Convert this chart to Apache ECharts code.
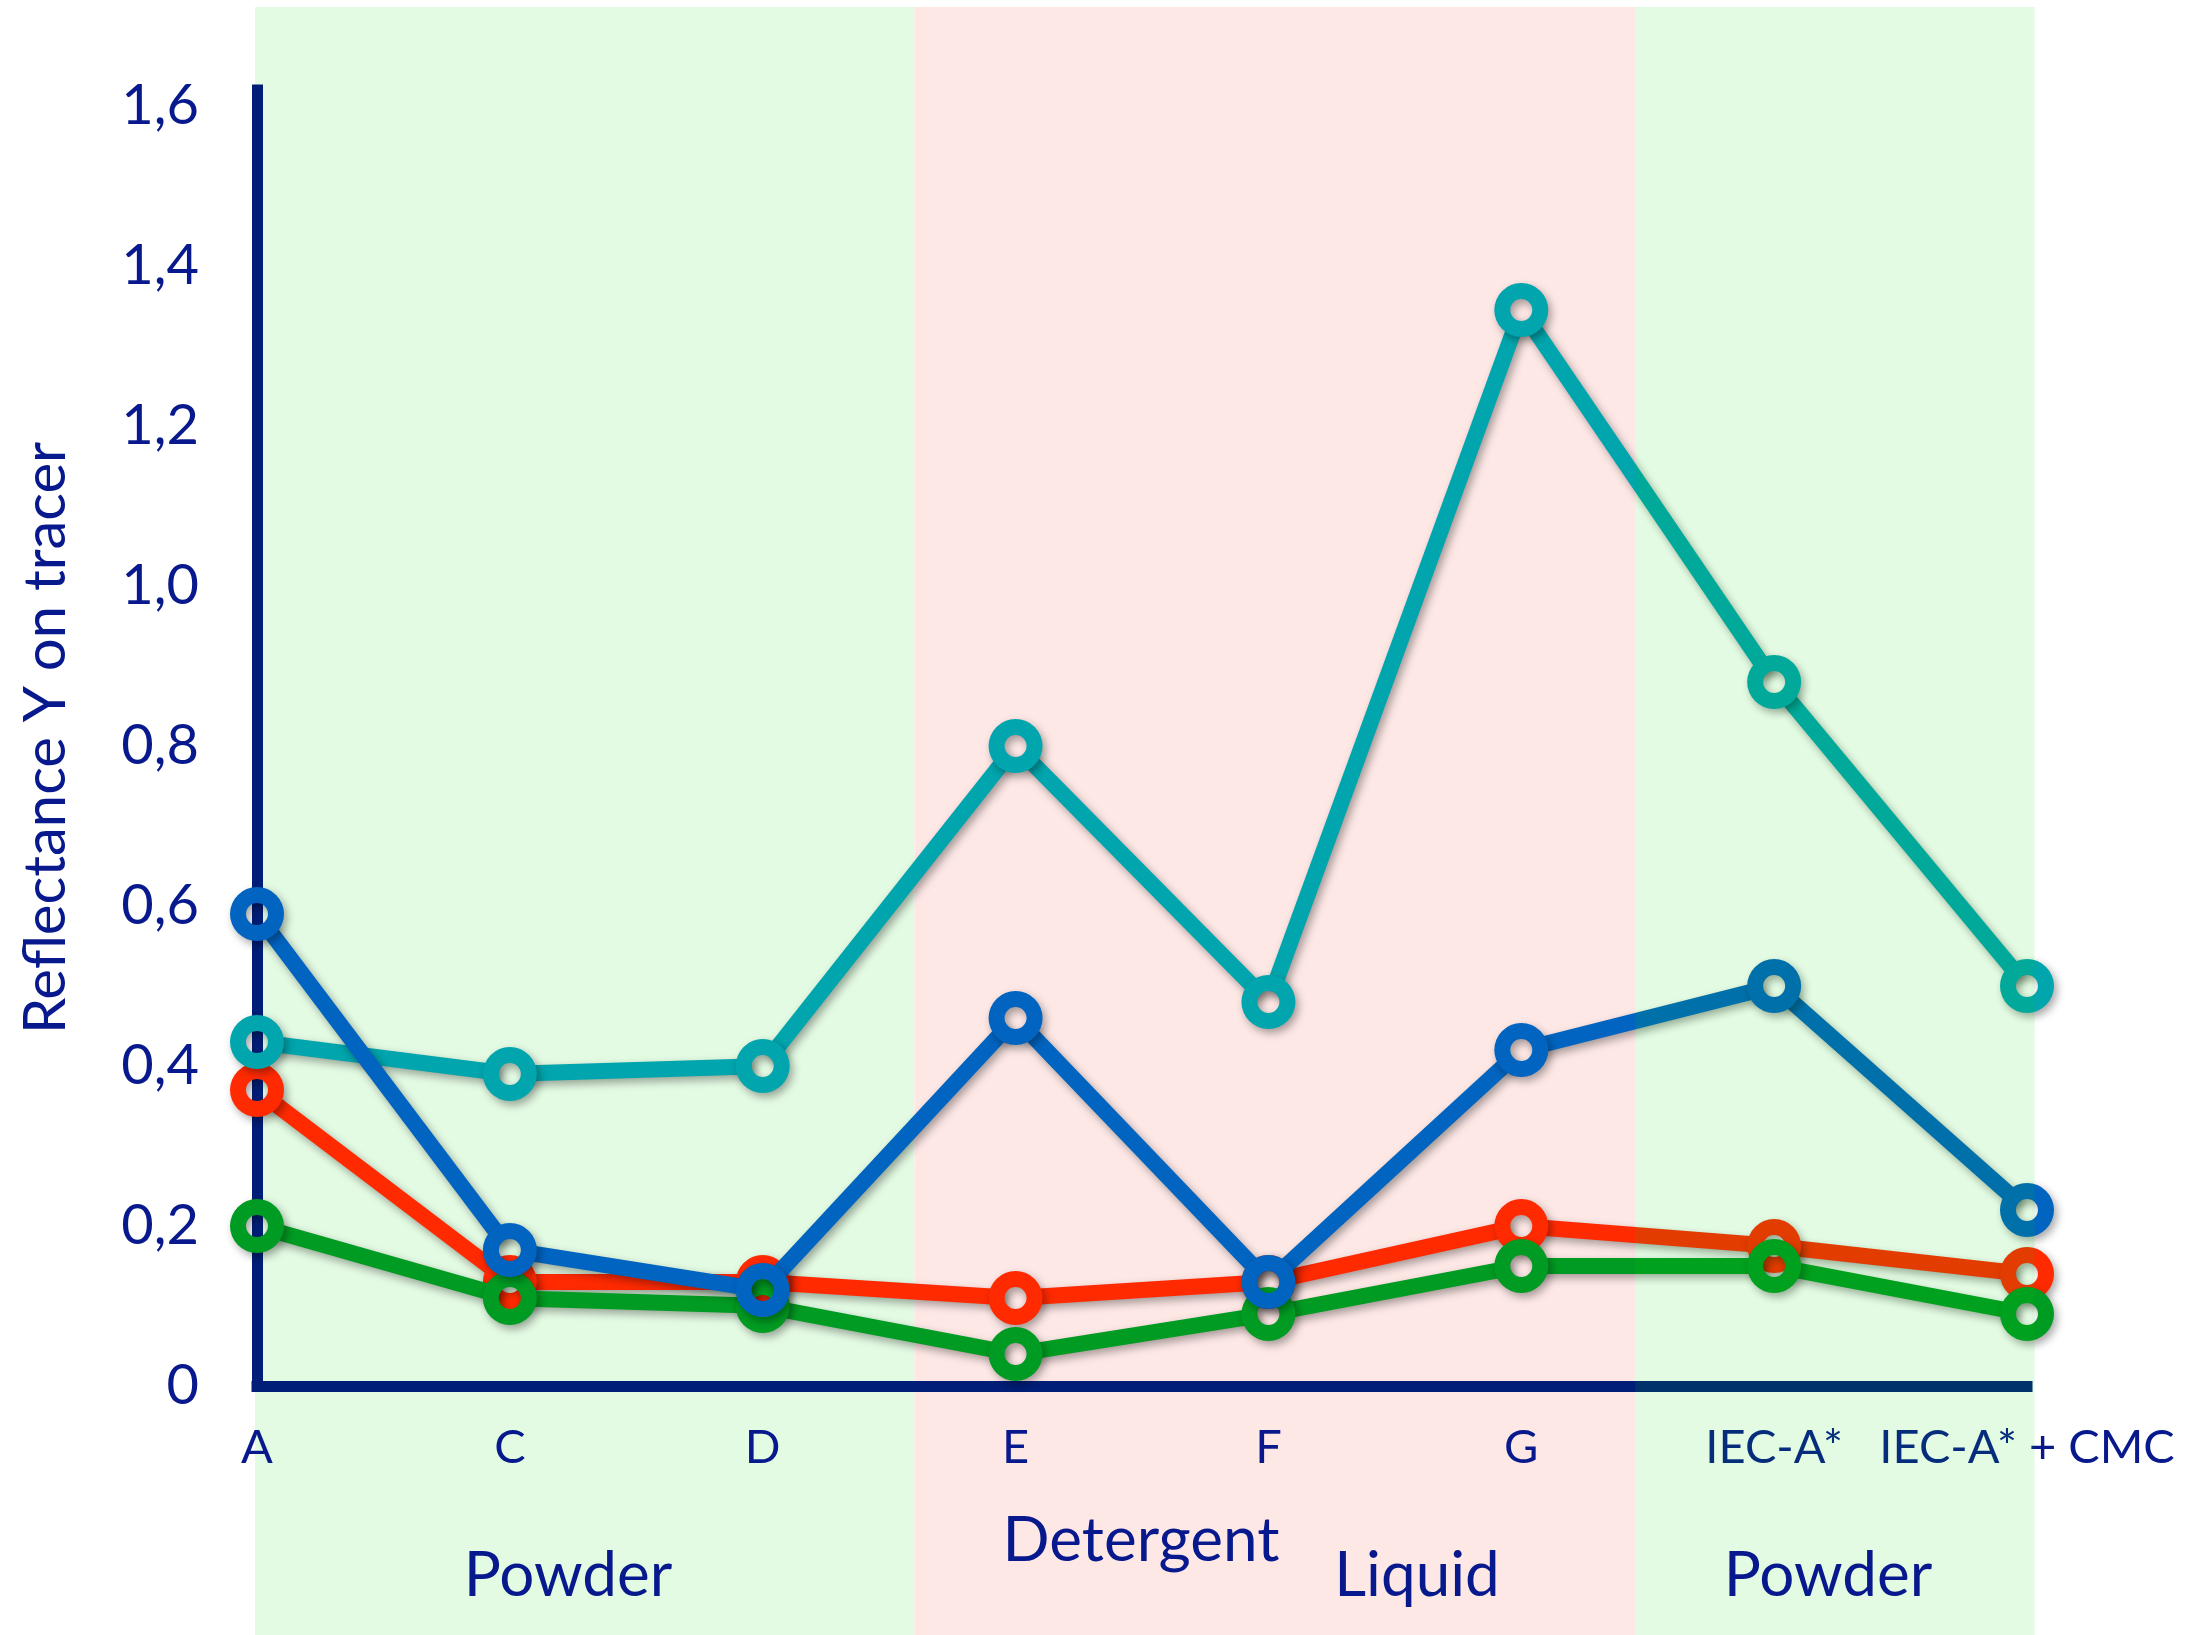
<!DOCTYPE html>
<html><head><meta charset="utf-8">
<script src="https://cdn.jsdelivr.net/npm/echarts@6/dist/echarts.min.js"></script>
<style>html,body{margin:0;padding:0;background:#fff}#c{width:2196px;height:1635px}</style>
</head><body><div id="c"></div>
<script>
const categories = ['A','C','D','E','F','G','IEC-A*','IEC-A* + CMC'];
const tealValues  = [0.43, 0.39, 0.40, 0.80, 0.48, 1.345, 0.88, 0.50];
const blueValues  = [0.59, 0.17, 0.12, 0.46, 0.13, 0.42, 0.50, 0.22];
const redValues   = [0.37, 0.13, 0.13, 0.11, 0.13, 0.20, 0.175, 0.14];
const greenValues = [0.20, 0.11, 0.10, 0.04, 0.09, 0.15, 0.15, 0.09];
const yTickLabels = ['0','0,2','0,4','0,6','0,8','1,0','1,2','1,4','1,6'];
const bandEdges = [0, 2.6, 5.45, 7.03];   // band boundaries in category units
const yAxisName = 'Reflectance Y on tracer';

const NAVY = '#001E78';
const TEXT = '#07198C';
const FONT = 'Lato, "Open Sans", sans-serif';
const SHADOW = {shadowColor: 'rgba(0,0,0,0.35)', shadowBlur: 8, shadowOffsetX: 3, shadowOffsetY: 4};

const chart = echarts.init(document.getElementById('c'), null, {renderer: 'canvas'});

function mkSeries(values, color) {
  const n = values.length;
  const data = values.map((v, i) => [i, v, i < n - 1 ? values[i + 1] : v]);
  return {
    type: 'custom', data: data, clip: false, silent: true,
    encode: {x: 0, y: 1},
    renderItem: function (params, api) {
      const i = api.value(0);
      const p = api.coord([i, api.value(1)]);
      const children = [];
      if (i < n - 1) {
        const q = api.coord([i + 1, api.value(2)]);
        const dx = q[0] - p[0], dy = q[1] - p[1], L = Math.hypot(dx, dy);
        const ux = dx / L, uy = dy / L, g = 12;
        children.push({type: 'line', shape: {x1: p[0] + ux * g, y1: p[1] + uy * g, x2: q[0] - ux * g, y2: q[1] - uy * g},
          style: Object.assign({stroke: color, lineWidth: 16, fill: null}, SHADOW)});
      }
      children.push({type: 'ring', shape: {cx: p[0], cy: p[1], r: 27, r0: 11},
        style: Object.assign({fill: color}, SHADOW)});
      return {type: 'group', children: children};
    },
    animation: false,
    z: 3
  };
}

chart.setOption({
  animation: false,
  grid: {left: 257, right: 169, top: 90, bottom: 249, containLabel: false, outerBoundsMode: 'none'},
  xAxis: {
    type: 'category', data: categories, boundaryGap: false,
    axisLine: {lineStyle: {color: NAVY, width: 11, cap: 'square'}},
    axisTick: {show: false},
    axisLabel: {color: TEXT, fontFamily: FONT, fontSize: 47, margin: 38, interval: 0},
    splitLine: {show: false}
  },
  yAxis: {
    type: 'value', min: 0, max: 1.62, interval: 0.2,
    name: yAxisName, nameLocation: 'middle', nameGap: 182,
    nameTextStyle: {color: TEXT, fontFamily: FONT, fontSize: 58},
    axisLine: {show: true, lineStyle: {color: NAVY, width: 11, cap: 'square'}},
    axisTick: {show: false},
    splitLine: {show: false},
    axisLabel: {
      color: TEXT, fontFamily: FONT, fontSize: 56, margin: 58, showMaxLabel: false,
      formatter: function (v) { const i = Math.round(v / 0.2); return Math.abs(v - i * 0.2) < 1e-6 ? yTickLabels[i] : ''; }
    }
  },
  series: [
    mkSeries(redValues, '#FF2A00'),
    mkSeries(greenValues, '#009B22'),
    mkSeries(tealValues, '#00A5AD'),
    mkSeries(blueValues, '#0064C0')
  ]
});

const x0 = chart.convertToPixel({xAxisIndex: 0}, 0);
const x7 = chart.convertToPixel({xAxisIndex: 0}, 7);
const step = (x7 - x0) / 7;
const bx = i => x0 + bandEdges[i] * step;
const TOP = 7, BOT = 1635;

chart.setOption({
  graphic: [
    {type: 'rect', z: -10, silent: true, shape: {x: bx(0) - 2, y: TOP, width: bx(1) - bx(0) + 2, height: BOT - TOP}, style: {fill: '#E3FAE3'}},
    {type: 'rect', z: -10, silent: true, shape: {x: bx(1), y: TOP, width: bx(2) - bx(1), height: BOT - TOP}, style: {fill: '#FDE8E6'}},
    {type: 'rect', z: 100, silent: true, shape: {x: bx(2), y: TOP, width: bx(3) - bx(2), height: BOT - TOP}, style: {fill: 'rgba(0,210,0,0.11)'}},
    {type: 'text', z: 110, silent: true, x: 568, y: 1576, style: {text: 'Powder', fill: TEXT, font: '62px ' + FONT, textAlign: 'center', textVerticalAlign: 'middle'}},
    {type: 'text', z: 110, silent: true, x: 1141, y: 1541, style: {text: 'Detergent', fill: TEXT, font: '62px ' + FONT, textAlign: 'center', textVerticalAlign: 'middle'}},
    {type: 'text', z: 110, silent: true, x: 1417, y: 1576, style: {text: 'Liquid', fill: TEXT, font: '62px ' + FONT, textAlign: 'center', textVerticalAlign: 'middle'}},
    {type: 'text', z: 110, silent: true, x: 1828, y: 1576, style: {text: 'Powder', fill: TEXT, font: '62px ' + FONT, textAlign: 'center', textVerticalAlign: 'middle'}}
  ]
});
</script></body></html>
